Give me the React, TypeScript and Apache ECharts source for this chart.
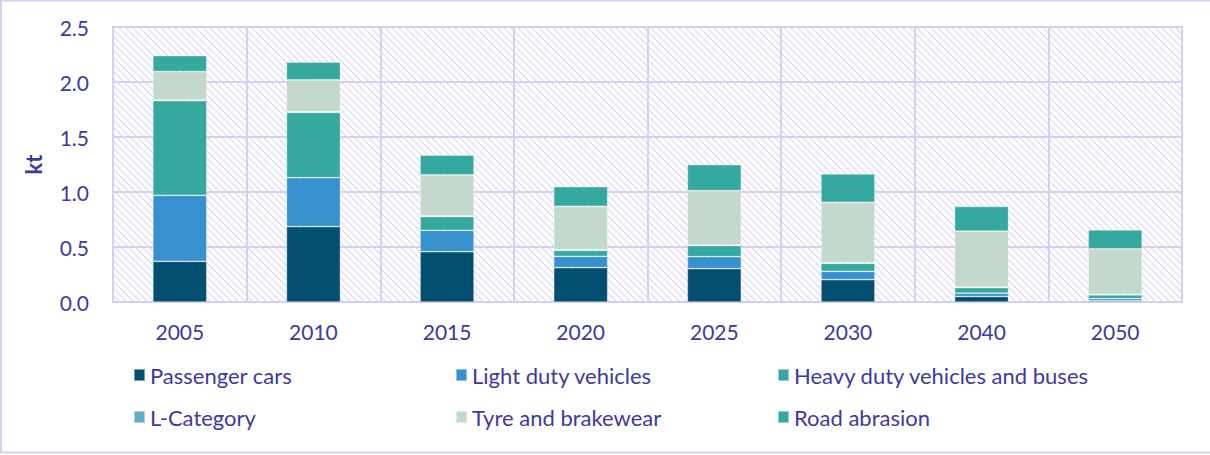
import React, { useEffect, useRef } from "react";
import * as echarts from "echarts";

const categories = ["2005", "2010", "2015", "2020", "2025", "2030", "2040", "2050"];
const passengerCars = [0.37, 0.685, 0.457, 0.312, 0.303, 0.203, 0.05, 0.01];
const lightDuty = [0.6, 0.445, 0.195, 0.103, 0.109, 0.076, 0.03, 0.02];
const heavyDuty = [0.86, 0.595, 0.125, 0.055, 0.101, 0.073, 0.05, 0.035];
const lCategory = [0.005, 0.005, 0.005, 0.005, 0.005, 0.005, 0.005, 0.005];
const tyreBrake = [0.26, 0.29, 0.373, 0.395, 0.494, 0.549, 0.509, 0.412];
const roadAbrasion = [0.145, 0.16, 0.18, 0.178, 0.236, 0.258, 0.225, 0.173];

const seriesNames = [
  "Passenger cars",
  "Light duty vehicles",
  "Heavy duty vehicles and buses",
  "L-Category",
  "Tyre and brakewear",
  "Road abrasion",
];
const seriesData = [passengerCars, lightDuty, heavyDuty, lCategory, tyreBrake, roadAbrasion];
const seriesColors = ["#034F72", "#3891CF", "#35A9A0", "#62AFC8", "#C2D9CB", "#35A9A0"];

const TEXT = "#3E39A0";
const GRID = "#D3D0F0";
const FONT = "Lato, 'Open Sans', sans-serif";

function makeHatch() {
  const c = document.createElement("canvas");
  const s = 7;
  c.width = s;
  c.height = s;
  const ctx = c.getContext("2d")!;
  ctx.fillStyle = "#ffffff";
  ctx.fillRect(0, 0, s, s);
  ctx.strokeStyle = "#D8D5F4";
  ctx.lineWidth = 1.2;
  ctx.beginPath();
  ctx.moveTo(-1, -1);
  ctx.lineTo(s + 1, s + 1);
  ctx.moveTo(-1, s - 1);
  ctx.lineTo(1, s + 1);
  ctx.moveTo(s - 1, -1);
  ctx.lineTo(s + 1, 1);
  ctx.stroke();
  return c;
}

export default function App() {
  const ref = useRef<HTMLDivElement>(null);
  useEffect(() => {
    if (!ref.current) return;
    const chart = echarts.init(ref.current, undefined, { renderer: "svg" });
    const legendPos = [
      [128, 359],
      [450, 359],
      [772, 359],
      [128, 401],
      [450, 401],
      [772, 401],
    ];
    chart.setOption({
      animation: false,
      textStyle: { fontFamily: FONT },
      grid: {
        left: 113,
        right: 28,
        top: 27,
        bottom: 153,
        show: true,
        backgroundColor: { image: makeHatch(), repeat: "repeat" },
        borderColor: GRID,
        borderWidth: 2,
      },
      graphic: [
        {
          type: "rect",
          shape: { x: 1, y: 0.5, width: 1220, height: 452 },
          style: { fill: "none", stroke: "#D5D2F0", lineWidth: 2 },
          silent: true,
          z: -10,
        },
      ],
      legend: seriesNames.map((n, i) => ({
        data: [n],
        left: legendPos[i][0],
        top: legendPos[i][1],
        itemWidth: 11,
        itemHeight: 12,
        icon: "rect",
        textStyle: { color: TEXT, fontSize: 22, fontFamily: FONT, padding: [0, 0, 0, 0] },
        selectedMode: false,
      })),
      xAxis: {
        type: "category",
        data: categories,
        axisLine: { show: true, lineStyle: { color: GRID, width: 2 } },
        axisTick: { show: false },
        splitLine: { show: true, lineStyle: { color: GRID, width: 2 } },
        axisLabel: { color: TEXT, fontSize: 21, margin: 19, fontFamily: FONT },
      },
      yAxis: {
        type: "value",
        min: 0,
        max: 2.5,
        interval: 0.5,
        name: "kt",
        nameLocation: "middle",
        nameGap: 69,
        nameTextStyle: { color: TEXT, fontSize: 22, fontWeight: "bold", fontFamily: FONT },
        axisLine: { show: false },
        axisTick: { show: false },
        splitLine: { show: true, lineStyle: { color: GRID, width: 2 } },
        axisLabel: {
          color: TEXT,
          fontSize: 21,
          margin: 24,
          fontFamily: FONT,
          formatter: (v: number) => v.toFixed(1),
        },
      },
      series: seriesNames.map((n, i) => ({
        name: n,
        type: "bar",
        stack: "total",
        barWidth: 54,
        data: seriesData[i],
        itemStyle: {
          color: seriesColors[i],
          borderColor: "rgba(255,255,255,0.45)",
          borderWidth: 0.75,
        },
      })),
    });
    return () => chart.dispose();
  }, []);
  return (
    <div
      ref={ref}
      style={{ position: "absolute", left: 0, top: 0, width: 1210, height: 455, background: "#fff" }}
    />
  );
}
